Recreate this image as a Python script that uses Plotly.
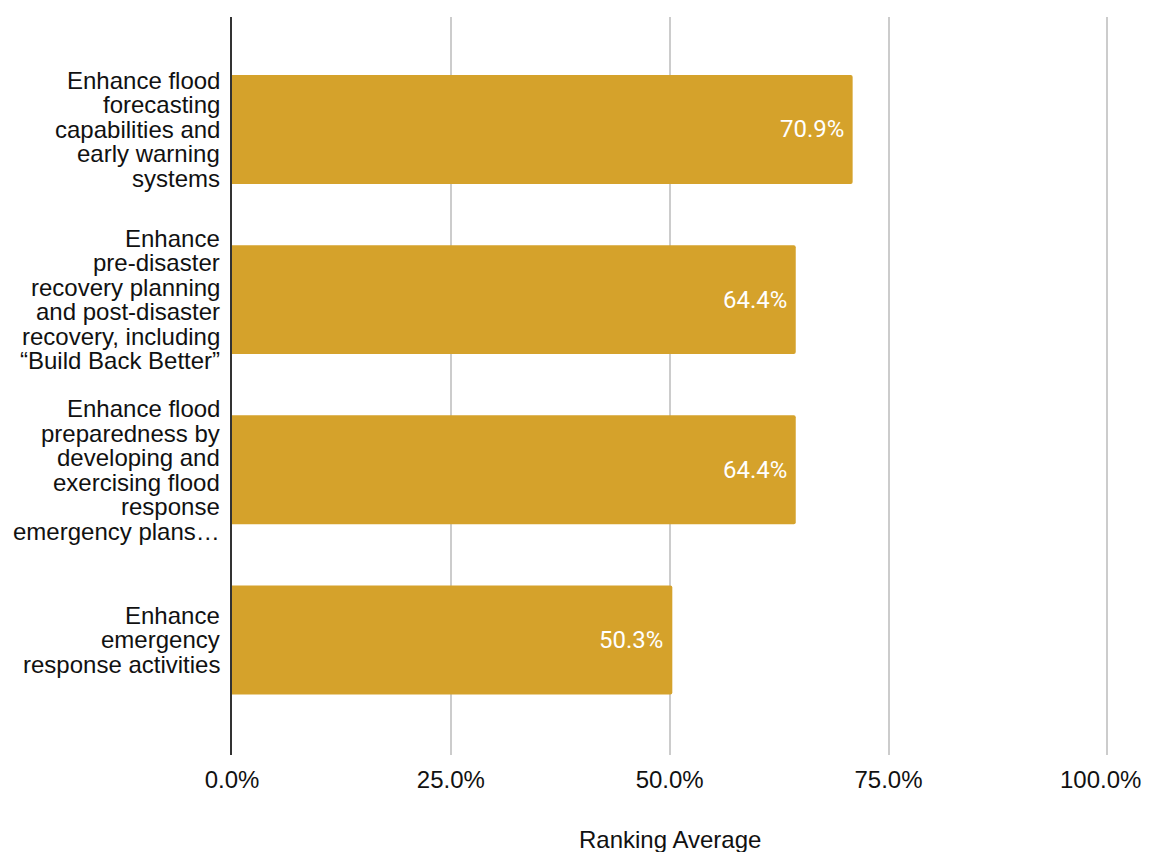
import plotly.graph_objects as go

categories = [
    "Enhance flood forecasting capabilities and early warning systems",
    "Enhance pre-disaster recovery planning and post-disaster recovery, including “Build Back Better”",
    "Enhance flood preparedness by developing and exercising flood response emergency plans…",
    "Enhance emergency response activities",
]
label_lines = [
    ["Enhance flood", "forecasting", "capabilities and", "early warning", "systems"],
    ["Enhance", "pre-disaster", "recovery planning", "and post-disaster", "recovery, including", "“Build Back Better”"],
    ["Enhance flood", "preparedness by", "developing and", "exercising flood", "response", "emergency plans…"],
    ["Enhance", "emergency", "response activities"],
]
values = [0.709, 0.644, 0.644, 0.503]
value_labels = ["70.9%", "64.4%", "64.4%", "50.3%"]
x_ticks = [0, 0.25, 0.5, 0.75, 1.0]
x_tick_labels = ["0.0%", "25.0%", "50.0%", "75.0%", "100.0%"]
axis_title = "Ranking Average"

BAR_COLOR = "#D5A22B"
FONT = "Liberation Sans, Arial, sans-serif"

W, H = 1143, 844
ML, MR, MT, MB = 224, 41, 9, 97

fig = go.Figure(
    go.Bar(
        x=values,
        y=categories,
        orientation="h",
        marker=dict(color=BAR_COLOR, line=dict(width=0)),
        width=0.64,
        hoverinfo="skip",
    )
)

annotations = []
line_gap = 24.5
for cat, lines in zip(categories, label_lines):
    n = len(lines)
    for i, ln in enumerate(lines):
        annotations.append(dict(
            x=0, xref="paper", y=cat, yref="y",
            text=ln, showarrow=False, xanchor="right", yanchor="middle",
            xshift=-11, yshift=((n - 1) / 2 - i) * line_gap, borderpad=0,
            font=dict(family=FONT, size=24, color="#111111"),
        ))
for cat, v, lab in zip(categories, values, value_labels):
    annotations.append(dict(
        x=v, xref="x", y=cat, yref="y",
        text=lab, showarrow=False, xanchor="right", yanchor="middle",
        xshift=-7, font=dict(family="Roboto, sans-serif", size=24, color="#ffffff"),
    ))

# last tick label drawn as an annotation, nudged so it stays inside the page
tick_text_axis = x_tick_labels[:-1] + [""]
annotations.append(dict(
    x=x_ticks[-1], xref="x", y=0, yref="paper", yanchor="middle", yshift=-24,
    xanchor="center", xshift=-7, text=x_tick_labels[-1], showarrow=False,
    font=dict(family=FONT, size=24, color="#111111"),
))

plot_h = H - MT - MB
title_center_px = 831  # in figure pixels from top
annotations.append(dict(
    x=0.5, xref="x", y=-(title_center_px - (H - MB)) / plot_h, yref="paper",
    yanchor="middle", text=axis_title, showarrow=False,
    font=dict(family=FONT, size=24, color="#111111"),
))

fig.update_layout(
    width=W, height=H,
    margin=dict(l=ML, r=MR, t=MT, b=MB),
    paper_bgcolor="white", plot_bgcolor="white",
    showlegend=False,
    barcornerradius=2,
    font=dict(family=FONT, size=24, color="#111111"),
    xaxis=dict(
        range=[0, 1.003], tickvals=x_ticks, ticktext=tick_text_axis,
        showgrid=True, gridcolor="#CCCCCC", gridwidth=1.5,
        zeroline=False, showline=False, ticks="",
        ticklabelstandoff=8, ticklabeloverflow="allow", automargin=False,
        tickfont=dict(family=FONT, size=24, color="#111111"),
    ),
    yaxis=dict(
        type="category", categoryorder="array", categoryarray=categories,
        range=[3.676, -0.661], showticklabels=False, automargin=False,
        showgrid=False, zeroline=False,
        showline=True, linecolor="#333333", linewidth=1.5,
    ),
    annotations=annotations,
)

fig.write_html("out.html")
